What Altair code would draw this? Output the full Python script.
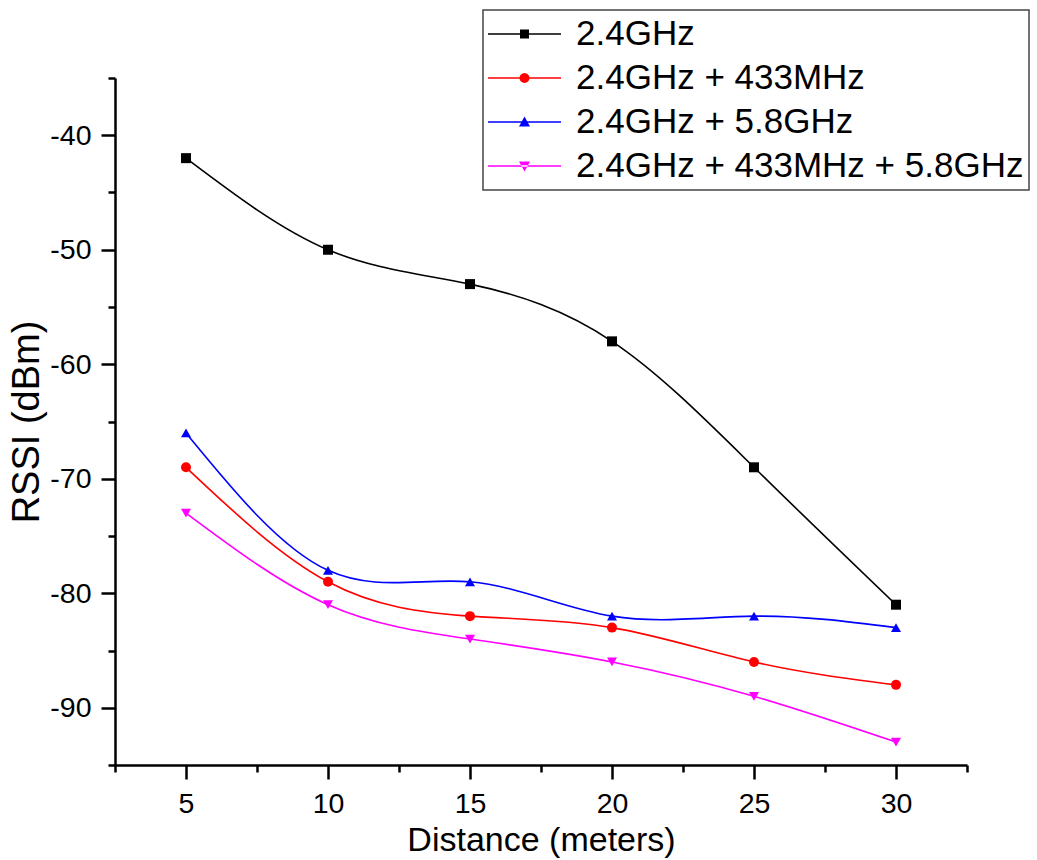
import math
import altair as alt
import pandas as pd

# ---------------- data ----------------
distance = [5, 10, 15, 20, 25, 30]
series_names = ["2.4GHz", "2.4GHz + 433MHz", "2.4GHz + 5.8GHz", "2.4GHz + 433MHz + 5.8GHz"]
rssi_24 = [-42, -50, -53, -58, -69, -81]
rssi_24_433 = [-69, -79, -82, -83, -86, -88]
rssi_24_58 = [-66, -78, -79, -82, -82, -83]
rssi_all = [-73, -81, -84, -86, -89, -93]
colors = ["#000000", "#FF0000", "#0000FF", "#FF00FF"]
marker_shapes = ["square", "circle", "triangle-up", "triangle-down"]

x_ticks = [2.5, 5, 7.5, 10, 12.5, 15, 17.5, 20, 22.5, 25, 27.5, 30, 32.5]
y_ticks = [-95, -90, -85, -80, -75, -70, -65, -60, -55, -50, -45, -40, -35]

rows = []
for name, vals, col, shp in zip(series_names, [rssi_24, rssi_24_433, rssi_24_58, rssi_all], colors, marker_shapes):
    for d, v in zip(distance, vals):
        rows.append({"series": name, "distance": d, "rssi": v, "col": col, "shp": shp})
df = pd.DataFrame(rows)

# ------------- legend symbols (line + marker in one path) -------------
SYM_SIZE = 73 * 73
K = math.sqrt(SYM_SIZE) / 2.0


def u(px):
    return f"{px / K:.4f}"


line_part = f"M-1,-{u(0.8)}H1V{u(0.8)}H-1Z"
square_part = f"M-{u(4.5)},-{u(4.5)}H{u(4.5)}V{u(4.5)}H-{u(4.5)}Z"
circ_pts = []
for i in range(16):
    a = 2 * math.pi * i / 16
    circ_pts.append(f"{u(5 * math.cos(a))},{u(5 * math.sin(a))}")
circle_part = "M" + "L".join(circ_pts) + "Z"
tri_up_part = f"M0,-{u(5.5)}L{u(5.5)},{u(4.5)}L-{u(5.5)},{u(4.5)}Z"
tri_dn_part = f"M0,{u(5.5)}L{u(5.5)},-{u(4.5)}L-{u(5.5)},-{u(4.5)}Z"
legend_paths = [line_part + p for p in [square_part, circle_part, tri_up_part, tri_dn_part]]

FONT = "Liberation Sans"

x_axis = alt.Axis(
    values=x_ticks,
    labelExpr="datum.value % 5 == 0 ? '' + datum.value : ''",
    tickSize={"condition": {"test": "datum.value % 5 == 0", "value": 14}, "value": 7},
    grid=False,
    domainWidth=2.5,
    tickWidth=2.5,
    domainColor="black",
    tickColor="black",
    labelFont=FONT,
    labelFontSize=28.5,
    labelColor="black",
    labelPadding=10,
    labelFlush=False,
    labelOverlap=False,
    titleFont=FONT,
    titleFontSize=34,
    titleFontWeight="normal",
    titleColor="black",
    titlePadding=6,
)
y_axis = alt.Axis(
    values=y_ticks,
    labelExpr="datum.value % 10 == 0 ? '' + datum.value : ''",
    tickSize={"condition": {"test": "datum.value % 10 == 0", "value": 14}, "value": 7},
    grid=False,
    domainWidth=2.5,
    tickWidth=2.5,
    domainColor="black",
    tickColor="black",
    labelFont=FONT,
    labelFontSize=28.5,
    labelColor="black",
    labelPadding=10,
    labelFlush=False,
    labelOverlap=False,
    titleFont=FONT,
    titleFontSize=38,
    titleFontWeight="normal",
    titleColor="black",
    titlePadding=3,
)

base = alt.Chart(df).encode(
    x=alt.X("distance:Q", scale=alt.Scale(domain=[2.5, 32.5], nice=False, zero=False), axis=x_axis,
            title="Distance (meters)"),
    y=alt.Y("rssi:Q", scale=alt.Scale(domain=[-95, -35], nice=False, zero=False), axis=y_axis,
            title="RSSI (dBm)"),
)

lines = base.mark_line(interpolate="natural", strokeWidth=1.6).encode(
    color=alt.Color("col:N", scale=None),
    detail="series:N",
)

points = base.mark_point(filled=True, size=100, opacity=1).encode(
    color=alt.Color("col:N", scale=None),
    shape=alt.Shape("shp:N", scale=None),
)

leg = alt.Legend(
    title=None,
    orient="none",
    legendX=368,
    legendY=-68,
    labelFont=FONT,
    labelFontSize=35,
    labelColor="black",
    labelLimit=700,
    labelOffset=15,
    symbolSize=SYM_SIZE,
    symbolStrokeWidth=0,
    clipHeight=38,
    rowPadding=6,
    padding=5,
    strokeColor="#444444",
    fillColor="white",
)

legend_layer = base.transform_filter("false").mark_point(filled=True, opacity=1).encode(
    color=alt.Color("series:N", scale=alt.Scale(domain=series_names, range=colors), legend=leg),
    shape=alt.Shape("series:N", scale=alt.Scale(domain=series_names, range=legend_paths), legend=leg),
)

chart = (
    alt.layer(lines, points, legend_layer)
    .properties(
        width=852,
        height=687,
        autosize=alt.AutoSizeParams(type="none"),
        padding={"left": 115, "top": 78, "right": 70, "bottom": 95},
        background="white",
    )
    .configure_view(stroke=None)
    .configure_legend(strokeWidth=1.5)
)

chart.save("out.html", embed_options={"renderer": "svg", "actions": False})
